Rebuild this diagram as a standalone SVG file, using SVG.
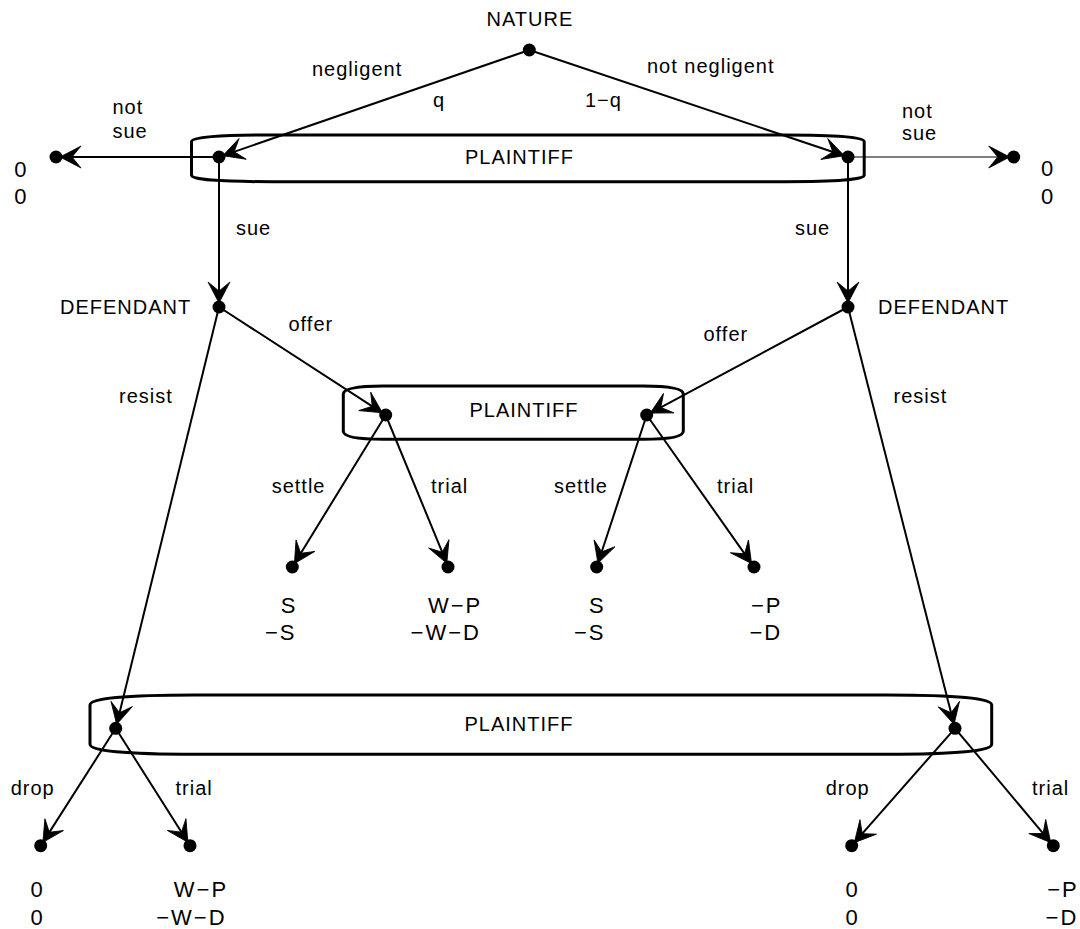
<svg xmlns="http://www.w3.org/2000/svg" width="1080" height="929" viewBox="0 0 1080 929">
<style>
.lbl{font-family:"Liberation Sans",Arial,sans-serif;font-size:20px;letter-spacing:1px;fill:#000}
.pay{font-family:"Liberation Sans",Arial,sans-serif;font-size:22px;letter-spacing:2px;fill:#000}
.box{fill:none;stroke:#000;stroke-width:3}
.e{fill:none;stroke:#000;stroke-width:2;marker-end:url(#ah)}
.thin{stroke-width:1.2}
.dot{fill:#000}
</style>
<defs>
<marker id="ah" markerUnits="userSpaceOnUse" markerWidth="30" markerHeight="30" refX="0" refY="0" orient="auto" overflow="visible">
<path d="M11,0 L-10,-11 L-1,0 L-10,11 Z" fill="#000" stroke="#000" stroke-width="0.8" stroke-linejoin="miter"/>
</marker>
</defs>
<rect width="1080" height="929" fill="#fff"/>

<g id="infosets">
<path id="box-top" class="box" d="M271.5,135 L784.2,135 Q864.2,135 864.2,141.5 L864.2,175.2 Q864.2,181.7 784.2,181.7 L271.5,181.7 Q191.5,181.7 191.5,175.2 L191.5,141.5 Q191.5,135 271.5,135 Z"/>
<path id="box-mid" class="box" d="M383.3,386 L643.3,386 Q683.3,386 683.3,394 L683.3,431.3 Q683.3,439.3 643.3,439.3 L383.3,439.3 Q343.3,439.3 343.3,431.3 L343.3,394 Q343.3,386 383.3,386 Z"/>
<path id="box-bot" class="box" d="M195,695 L886.7,695 Q991.7,695 991.7,705 L991.7,744.3 Q991.7,754.3 886.7,754.3 L195,754.3 Q90,754.3 90,744.3 L90,705 Q90,695 195,695 Z"/>
<text class="lbl" x="465" y="164">PLAINTIFF</text>
<text class="lbl" x="469.5" y="416.7">PLAINTIFF</text>
<text class="lbl" x="464.5" y="731">PLAINTIFF</text>
</g>

<g id="connectors">
<path class="e" d="M529.3,50 L233.2,152.1"/>
<path class="e" d="M529.3,50 L833.8,152.2"/>
<path class="e" d="M219,157 L71,157"/>
<path class="e thin" d="M848,157 L998.7,157"/>
<path class="e" d="M219,157 L219,292"/>
<path class="e" d="M848,157 L848,292"/>
<path class="e" d="M219,307 L373.1,406.8"/>
<path class="e" d="M848,307 L659.9,407.9"/>
<path class="e" d="M219,307 L119.3,713.7"/>
<path class="e" d="M848,307 L951.3,713.8"/>
<path class="e" d="M385.7,415 L300.2,554.2"/>
<path class="e" d="M385.7,415 L442.6,553.1"/>
<path class="e" d="M646.7,415 L601.4,552.8"/>
<path class="e" d="M646.7,415 L745.2,554.6"/>
<path class="e" d="M115.7,728.3 L48.8,833.1"/>
<path class="e" d="M115.7,728.3 L182,833"/>
<path class="e" d="M955,728.3 L861.6,834.4"/>
<path class="e" d="M955,728.3 L1043.7,834.2"/>
</g>

<g id="edge-labels">
<text class="lbl" x="312" y="76">negligent</text>
<text class="lbl" x="433" y="106.5">q</text>
<text class="lbl" x="647" y="73">not negligent</text>
<text class="lbl" x="585" y="106.5">1−q</text>
<text class="lbl" x="112.5" y="113.5">not</text>
<text class="lbl" x="112.5" y="137.5">sue</text>
<text class="lbl" x="902" y="117.5">not</text>
<text class="lbl" x="902" y="140">sue</text>
<text class="lbl" x="236" y="235">sue</text>
<text class="lbl" x="795" y="235">sue</text>
<text class="lbl" x="288.5" y="330.7">offer</text>
<text class="lbl" x="703.5" y="341">offer</text>
<text class="lbl" x="119" y="403">resist</text>
<text class="lbl" x="893.5" y="403.3">resist</text>
<text class="lbl" x="271.7" y="492.7">settle</text>
<text class="lbl" x="431" y="492.7">trial</text>
<text class="lbl" x="554" y="492.7">settle</text>
<text class="lbl" x="717" y="492.7">trial</text>
<text class="lbl" x="10.7" y="795">drop</text>
<text class="lbl" x="175.5" y="795">trial</text>
<text class="lbl" x="825.7" y="795">drop</text>
<text class="lbl" x="1032" y="795">trial</text>
</g>

<g id="node-nature"><circle class="dot" cx="529.3" cy="50" r="6.5"/><text class="lbl" x="486.5" y="25.5">NATURE</text></g>
<g id="node-plaintiff-left"><circle class="dot" cx="219" cy="157" r="6.5"/></g>
<g id="node-plaintiff-right"><circle class="dot" cx="848" cy="157" r="6.5"/></g>
<g id="node-notsue-left"><circle class="dot" cx="56" cy="157" r="6.5"/><text class="pay" x="14.3" y="177">0</text><text class="pay" x="14.3" y="204">0</text></g>
<g id="node-notsue-right"><circle class="dot" cx="1013.7" cy="157" r="6.5"/><text class="pay" x="1041" y="176">0</text><text class="pay" x="1041" y="203.5">0</text></g>
<g id="node-defendant-left"><circle class="dot" cx="219" cy="307" r="6.5"/><text class="lbl" x="60" y="314.3">DEFENDANT</text></g>
<g id="node-defendant-right"><circle class="dot" cx="848" cy="307" r="6.5"/><text class="lbl" x="878" y="314.3">DEFENDANT</text></g>
<g id="node-plaintiff-mid-left"><circle class="dot" cx="385.7" cy="415" r="6.5"/></g>
<g id="node-plaintiff-mid-right"><circle class="dot" cx="646.7" cy="415" r="6.5"/></g>
<g id="node-settle-left"><circle class="dot" cx="292.3" cy="567" r="6.5"/><text class="pay" x="280.7" y="613.3">S</text><text class="pay" x="265" y="640">−S</text></g>
<g id="node-trial-left"><circle class="dot" cx="448" cy="567" r="6.5"/><text class="pay" x="428" y="613.3">W−P</text><text class="pay" x="410.6" y="640">−W−D</text></g>
<g id="node-settle-right"><circle class="dot" cx="596.7" cy="567" r="6.5"/><text class="pay" x="589" y="613.3">S</text><text class="pay" x="574" y="640">−S</text></g>
<g id="node-trial-right"><circle class="dot" cx="754" cy="567" r="6.5"/><text class="pay" x="751" y="613.3">−P</text><text class="pay" x="749.5" y="640">−D</text></g>
<g id="node-plaintiff-bot-left"><circle class="dot" cx="115.7" cy="728.3" r="6.5"/></g>
<g id="node-plaintiff-bot-right"><circle class="dot" cx="955" cy="728.3" r="6.5"/></g>
<g id="node-drop-left"><circle class="dot" cx="40.7" cy="845.7" r="6.5"/><text class="pay" x="30.5" y="897">0</text><text class="pay" x="30.5" y="925">0</text></g>
<g id="node-trial-bot-left"><circle class="dot" cx="190" cy="845.7" r="6.5"/><text class="pay" x="173.8" y="897">W−P</text><text class="pay" x="156.2" y="925">−W−D</text></g>
<g id="node-drop-right"><circle class="dot" cx="851.7" cy="845.7" r="6.5"/><text class="pay" x="845.5" y="897">0</text><text class="pay" x="845.5" y="925">0</text></g>
<g id="node-trial-bot-right"><circle class="dot" cx="1053.3" cy="845.7" r="6.5"/><text class="pay" x="1047.2" y="897">−P</text><text class="pay" x="1045.6" y="925">−D</text></g>
</svg>
